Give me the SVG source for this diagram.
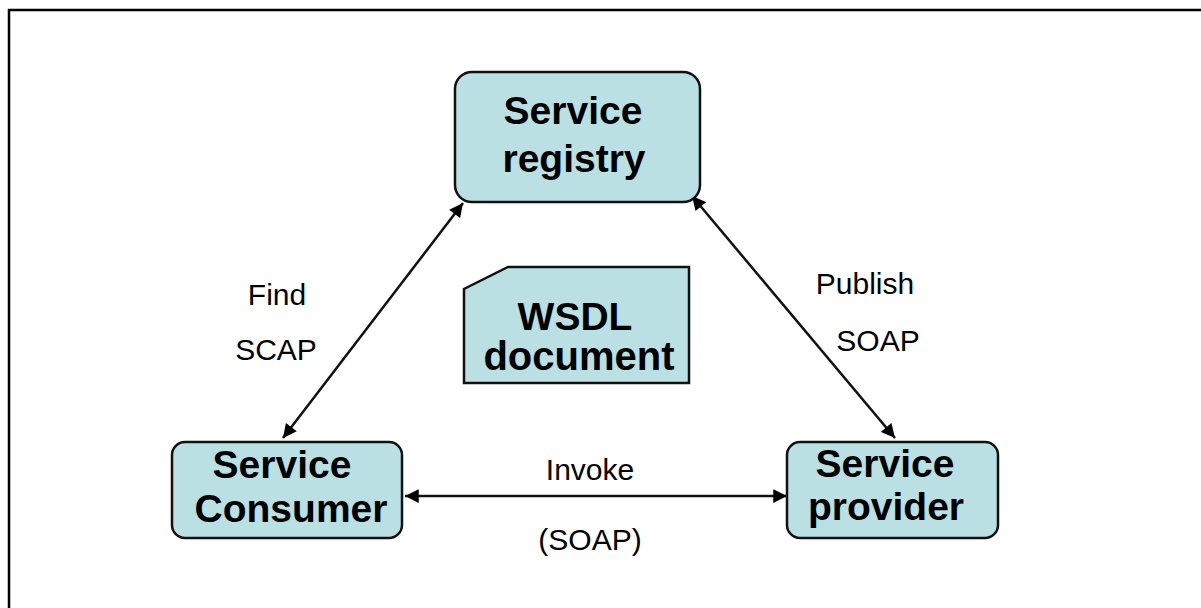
<svg xmlns="http://www.w3.org/2000/svg" width="1201" height="608" viewBox="0 0 1201 608">
<defs>
<style>
.box{fill:#bae0e3;stroke:#111;stroke-width:2.5}
.bt{font-family:"Liberation Sans",Arial,sans-serif;font-weight:bold;font-size:39px;fill:#000;text-anchor:middle}
.lt{font-family:"Liberation Sans",Arial,sans-serif;font-size:30px;fill:#000;text-anchor:middle}
.conn{stroke:#111;stroke-width:2.5;fill:none;marker-start:url(#ah);marker-end:url(#ah)}
</style>
<marker id="ah" viewBox="0 0 10 10" refX="10" refY="5" markerWidth="6.5" markerHeight="5.5" orient="auto-start-reverse" markerUnits="strokeWidth">
<path d="M0,0 L10,5 L0,10 Z" fill="#000"/>
</marker>
</defs>
<rect width="1201" height="608" fill="#fff"/>
<path d="M9,608 V10 H1201" fill="none" stroke="#000" stroke-width="2.5"/>
<g id="connectors">
<line class="conn" x1="283" y1="438" x2="463" y2="203"/>
<line class="conn" x1="692" y1="196" x2="895" y2="438"/>
<line class="conn" x1="405" y1="496" x2="787" y2="496"/>
<text class="lt" x="277" y="305">Find</text>
<text class="lt" x="276" y="360">SCAP</text>
<text class="lt" x="865" y="294">Publish</text>
<text class="lt" x="878" y="351">SOAP</text>
<text class="lt" x="590" y="480">Invoke</text>
<text class="lt" x="590" y="550">(SOAP)</text>
</g>
<g id="registry">
<rect class="box" x="455" y="72" width="245" height="130" rx="17"/>
<text class="bt" x="573" y="124">Service</text>
<text class="bt" x="574" y="172">registry</text>
</g>
<g id="wsdl">
<polygon class="box" points="508,267 689,267 689,383 464,383 464,289"/>
<text class="bt" x="575" y="330" style="font-size:39px">WSDL</text>
<text class="bt" x="579" y="370" style="font-size:40px">document</text>
</g>
<g id="consumer">
<rect class="box" x="172" y="442" width="230" height="96" rx="13"/>
<text class="bt" x="282" y="478">Service</text>
<text class="bt" x="291" y="522">Consumer</text>
</g>
<g id="provider">
<rect class="box" x="787" y="442" width="211" height="96" rx="13"/>
<text class="bt" x="885" y="477">Service</text>
<text class="bt" x="886" y="520">provider</text>
</g>
</svg>
